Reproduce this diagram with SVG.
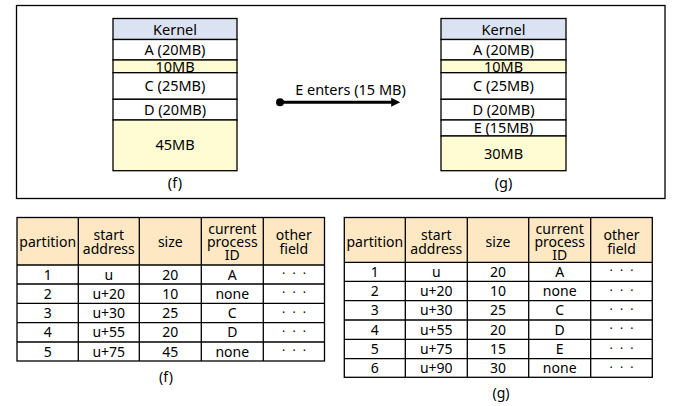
<svg xmlns="http://www.w3.org/2000/svg" width="680" height="406" viewBox="0 0 680 406">
<defs>
<style>
text{font-family:"Noto Sans","Open Sans","DejaVu Sans",sans-serif;fill:#000;text-anchor:middle}
.m{font-size:14.5px}
.t{font-size:14px}
.d{font-size:12px;letter-spacing:2px}
.ln{stroke:#000;stroke-width:1.3;fill:none}
.k{fill:#dbe3f3;stroke:#000;stroke-width:1.3}
.w{fill:#fff;stroke:#000;stroke-width:1.3}
.y{fill:#fffbd2;stroke:#000;stroke-width:1.3}
.h{fill:#fde8c3}
</style>
<marker id="ah" viewBox="0 0 10 10" refX="2" refY="5" markerWidth="11" markerHeight="9" orient="auto" markerUnits="userSpaceOnUse">
<path d="M0,0 L10,5 L0,10 z" fill="#000"/>
</marker>
</defs>
<rect x="0" y="0" width="680" height="406" fill="#fff"/>
<rect x="16.5" y="5.5" width="648.5" height="193" class="ln"/>

<g id="mem-f">
<rect x="113" y="18.5" width="124" height="21" class="k"/>
<rect x="113" y="39.5" width="124" height="20.5" class="w"/>
<rect x="113" y="60" width="124" height="12.7" class="y"/>
<rect x="113" y="72.7" width="124" height="26.6" class="w"/>
<rect x="113" y="99.3" width="124" height="20.7" class="w"/>
<rect x="113" y="120" width="124" height="50.7" class="y"/>
<text class="m" x="175" y="34.5">Kernel</text>
<text class="m" x="175" y="55">A (20MB)</text>
<text class="m" x="175" y="71.5">10MB</text>
<text class="m" x="175" y="91">C (25MB)</text>
<text class="m" x="175" y="115">D (20MB)</text>
<text class="m" x="175" y="150">45MB</text>
<text class="m" x="175" y="188">(f)</text>
</g>

<g id="mem-g">
<rect x="441" y="18.5" width="125" height="21" class="k"/>
<rect x="441" y="39.5" width="125" height="20.5" class="w"/>
<rect x="441" y="60" width="125" height="12.7" class="y"/>
<rect x="441" y="72.7" width="125" height="26.6" class="w"/>
<rect x="441" y="99.3" width="125" height="20.7" class="w"/>
<rect x="441" y="120" width="125" height="16" class="w"/>
<rect x="441" y="136" width="125" height="34.7" class="y"/>
<text class="m" x="503.5" y="34.5">Kernel</text>
<text class="m" x="503.5" y="55">A (20MB)</text>
<text class="m" x="503.5" y="71.5">10MB</text>
<text class="m" x="503.5" y="91">C (25MB)</text>
<text class="m" x="503.5" y="115">D (20MB)</text>
<text class="m" x="503.5" y="133">E (15MB)</text>
<text class="m" x="503.5" y="158.5">30MB</text>
<text class="m" x="503.5" y="188">(g)</text>
</g>

<g id="connectors">
<circle cx="280" cy="102.3" r="4" fill="#000"/>
<line x1="280" y1="102.3" x2="393" y2="102.3" stroke="#000" stroke-width="3" marker-end="url(#ah)"/>
<text class="m" x="350.5" y="95">E enters (15 MB)</text>
</g>

<g id="table-f">
<rect x="17" y="217.5" width="307.5" height="47.5" class="h"/>
<rect x="17" y="217.5" width="307.5" height="143.5" class="ln"/>
<line class="ln" x1="17" y1="265" x2="324.5" y2="265"/>
<line class="ln" x1="17" y1="284" x2="324.5" y2="284"/>
<line class="ln" x1="17" y1="303.3" x2="324.5" y2="303.3"/>
<line class="ln" x1="17" y1="322.7" x2="324.5" y2="322.7"/>
<line class="ln" x1="17" y1="342" x2="324.5" y2="342"/>
<line class="ln" x1="78.3" y1="217.5" x2="78.3" y2="361"/>
<line class="ln" x1="139.3" y1="217.5" x2="139.3" y2="361"/>
<line class="ln" x1="201.3" y1="217.5" x2="201.3" y2="361"/>
<line class="ln" x1="263.3" y1="217.5" x2="263.3" y2="361"/>
<text class="t" x="47.7" y="247">partition</text>
<text class="t" x="108.8" y="240">start</text>
<text class="t" x="108.8" y="254">address</text>
<text class="t" x="170.3" y="247">size</text>
<text class="t" x="232.3" y="234">current</text>
<text class="t" x="232.3" y="247">process</text>
<text class="t" x="232.3" y="260">ID</text>
<text class="t" x="293.8" y="240">other</text>
<text class="t" x="293.8" y="254">field</text>
<text class="t" x="47.7" y="279.5">1</text><text class="t" x="108.8" y="279.5">u</text><text class="t" x="170.3" y="279.5">20</text><text class="t" x="232.3" y="279.5">A</text><text class="d" x="295" y="278">· · ·</text>
<text class="t" x="47.7" y="298.7">2</text><text class="t" x="108.8" y="298.7">u+20</text><text class="t" x="170.3" y="298.7">10</text><text class="t" x="232.3" y="298.7">none</text><text class="d" x="295" y="297">· · ·</text>
<text class="t" x="47.7" y="318">3</text><text class="t" x="108.8" y="318">u+30</text><text class="t" x="170.3" y="318">25</text><text class="t" x="232.3" y="318">C</text><text class="d" x="295" y="316.5">· · ·</text>
<text class="t" x="47.7" y="337.4">4</text><text class="t" x="108.8" y="337.4">u+55</text><text class="t" x="170.3" y="337.4">20</text><text class="t" x="232.3" y="337.4">D</text><text class="d" x="295" y="336">· · ·</text>
<text class="t" x="47.7" y="356.5">5</text><text class="t" x="108.8" y="356.5">u+75</text><text class="t" x="170.3" y="356.5">45</text><text class="t" x="232.3" y="356.5">none</text><text class="d" x="295" y="355">· · ·</text>
<text class="t" x="166" y="382">(f)</text>
</g>

<g id="table-g">
<rect x="344.3" y="217.5" width="308" height="44.8" class="h"/>
<rect x="344.3" y="217.5" width="308" height="159.8" class="ln"/>
<line class="ln" x1="344.3" y1="262.3" x2="652.3" y2="262.3"/>
<line class="ln" x1="344.3" y1="281.3" x2="652.3" y2="281.3"/>
<line class="ln" x1="344.3" y1="300.7" x2="652.3" y2="300.7"/>
<line class="ln" x1="344.3" y1="320" x2="652.3" y2="320"/>
<line class="ln" x1="344.3" y1="339.3" x2="652.3" y2="339.3"/>
<line class="ln" x1="344.3" y1="358.7" x2="652.3" y2="358.7"/>
<line class="ln" x1="405.3" y1="217.5" x2="405.3" y2="377.3"/>
<line class="ln" x1="467.3" y1="217.5" x2="467.3" y2="377.3"/>
<line class="ln" x1="528.7" y1="217.5" x2="528.7" y2="377.3"/>
<line class="ln" x1="590.7" y1="217.5" x2="590.7" y2="377.3"/>
<text class="t" x="374.8" y="247">partition</text>
<text class="t" x="436.3" y="240">start</text>
<text class="t" x="436.3" y="254">address</text>
<text class="t" x="498" y="247">size</text>
<text class="t" x="559.7" y="234">current</text>
<text class="t" x="559.7" y="247">process</text>
<text class="t" x="559.7" y="260">ID</text>
<text class="t" x="621.5" y="240">other</text>
<text class="t" x="621.5" y="254">field</text>
<text class="t" x="374.8" y="276.8">1</text><text class="t" x="436.3" y="276.8">u</text><text class="t" x="498" y="276.8">20</text><text class="t" x="559.7" y="276.8">A</text><text class="d" x="622.5" y="275.3">· · ·</text>
<text class="t" x="374.8" y="296">2</text><text class="t" x="436.3" y="296">u+20</text><text class="t" x="498" y="296">10</text><text class="t" x="559.7" y="296">none</text><text class="d" x="622.5" y="294.5">· · ·</text>
<text class="t" x="374.8" y="315.3">3</text><text class="t" x="436.3" y="315.3">u+30</text><text class="t" x="498" y="315.3">25</text><text class="t" x="559.7" y="315.3">C</text><text class="d" x="622.5" y="313.8">· · ·</text>
<text class="t" x="374.8" y="334.7">4</text><text class="t" x="436.3" y="334.7">u+55</text><text class="t" x="498" y="334.7">20</text><text class="t" x="559.7" y="334.7">D</text><text class="d" x="622.5" y="333.2">· · ·</text>
<text class="t" x="374.8" y="354">5</text><text class="t" x="436.3" y="354">u+75</text><text class="t" x="498" y="354">15</text><text class="t" x="559.7" y="354">E</text><text class="d" x="622.5" y="352.5">· · ·</text>
<text class="t" x="374.8" y="373">6</text><text class="t" x="436.3" y="373">u+90</text><text class="t" x="498" y="373">30</text><text class="t" x="559.7" y="373">none</text><text class="d" x="622.5" y="371.5">· · ·</text>
<text class="t" x="501" y="398">(g)</text>
</g>
</svg>
